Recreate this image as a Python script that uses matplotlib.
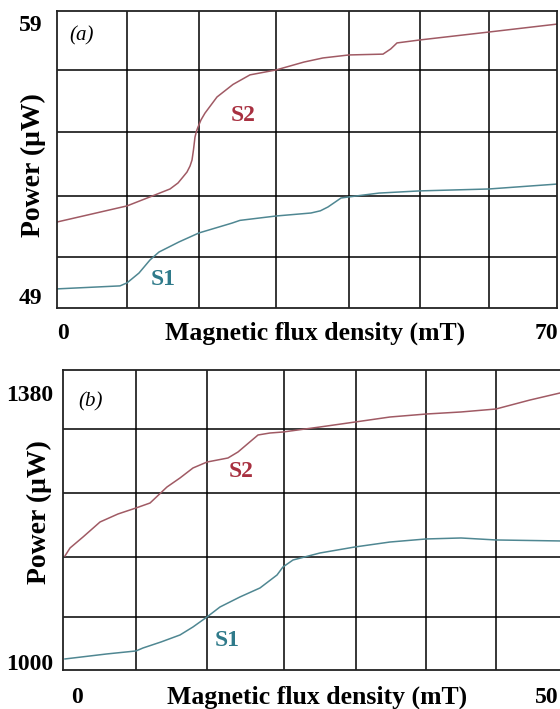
import matplotlib
matplotlib.use('Agg')
import matplotlib.pyplot as plt

plt.rcParams['font.family'] = ['Liberation Serif', 'DejaVu Serif']

# panel (a) data
a_s1_x = [-0.87, 8.26, 9.28, 11.01, 12.61, 13.91, 16.81, 19.71, 24.49, 25.65, 30.87,
          35.94, 37.3, 38.4, 39.5, 40.3, 41.45, 45.8, 51.74, 61.74, 71.59]
a_s1_y = [49.26, 49.37, 49.48, 49.84, 50.32, 50.61, 50.98, 51.31, 51.67, 51.77, 51.93,
          52.04, 52.12, 52.26, 52.45, 52.59, 52.63, 52.77, 52.85, 52.92, 53.10]
a_s2_x = [-0.87, 9.28, 12.61, 15.51, 16.67, 17.39, 17.97, 18.41, 18.70, 18.91, 19.13, 19.35,
          19.57, 20.0, 20.58, 22.32, 24.64, 27.10, 30.87, 34.93, 37.68, 41.45, 46.38, 47.5,
          48.41, 51.74, 61.74, 71.59]
a_s2_y = [51.71, 52.30, 52.63, 52.92, 53.14, 53.36, 53.54, 53.76, 53.98, 54.35, 54.82, 55.04,
          55.19, 55.45, 55.70, 56.29, 56.75, 57.10, 57.28, 57.57, 57.72, 57.83, 57.86, 58.05,
          58.27, 58.38, 58.67, 58.96]

# panel (b) data
b_s1_x = [-1.28, 3.19, 6.28, 7.02, 8.94, 10.96, 12.34, 13.83, 15.21, 17.34, 19.47,
          21.28, 21.91, 22.98, 25.85, 29.57, 33.30, 37.13, 40.85, 44.57, 51.38]
b_s1_y = [1004.3, 1011.4, 1015.6, 1019.8, 1028.3, 1038.2, 1049.5, 1063.6, 1077.7, 1091.9, 1104.6,
          1122.9, 1134.2, 1144.1, 1154.0, 1162.5, 1169.5, 1173.8, 1175.2, 1172.4, 1171.0]
b_s2_x = [-1.28, -0.74, 0.64, 2.45, 4.36, 6.28, 7.77, 9.57, 10.96, 12.34, 13.83, 16.06,
          17.13, 19.26, 20.53, 21.91, 25.85, 29.57, 33.30, 37.13, 40.85, 44.57, 48.19, 51.38]
b_s2_y = [1149.8, 1161.1, 1176.6, 1197.8, 1209.1, 1217.6, 1224.6, 1247.2, 1260.0, 1274.1, 1282.5, 1288.2,
          1296.7, 1320.7, 1323.5, 1324.9, 1332.0, 1339.0, 1346.1, 1350.3, 1353.2, 1357.4, 1370.1, 1380.0]

a_xticks = [0, 70]
a_yticks = [49, 59]
b_xticks = [0, 50]
b_yticks = [1000, 1380]

# grid line positions (not at tick values in the original)
a_xgrid = [9.28, 19.7, 30.9, 41.4, 51.7, 61.7]
a_ygrid = [50.43, 52.66, 55.01, 57.28]
b_xgrid = [6.28, 13.83, 22.02, 29.68, 37.13, 44.57]
b_ygrid = [1063.6, 1148.4, 1238.8, 1329.2]

c_s1 = '#4f8792'
c_s2 = '#a05a64'
c_s1_txt = '#2f7a8a'
c_s2_txt = '#a83040'

fig = plt.figure(figsize=(5.6, 7.09), dpi=100)
W, H = 560.0, 709.0

ax1 = fig.add_axes([57 / W, 1 - 308 / H, 500 / W, 297 / H])
ax2 = fig.add_axes([63 / W, 1 - 670 / H, 499 / W, 300 / H])


def style(ax, xt, yt, xg, yg, xlim, ylim, ypad, xpad):
    ax.set_xlim(*xlim)
    ax.set_ylim(*ylim)
    ax.set_xticks(xt)
    ax.set_yticks(yt)
    ax.set_xticks(xg, minor=True)
    ax.set_yticks(yg, minor=True)
    ax.grid(which='minor', color='black', lw=1.1)
    ax.grid(which='major', visible=False)
    ax.tick_params(which='both', length=0)
    ax.tick_params(axis='y', pad=ypad)
    ax.tick_params(axis='x', pad=xpad)
    for lab in ax.get_xticklabels() + ax.get_yticklabels():
        lab.set_fontweight('bold')
        lab.set_fontsize(17)
    for sp in ax.spines.values():
        sp.set_linewidth(1.3)
        sp.set_color('#222222')
    ax.set_axisbelow(True)


style(ax1, a_xticks, a_yticks, a_xgrid, a_ygrid, (-0.87, 71.6), (48.56, 59.44), 10.5, 11)
style(ax2, b_xticks, b_yticks, b_xgrid, b_ygrid, (-1.49, 51.6), (988.7, 1412.5), 7, 12)

ax1.plot(a_s1_x, a_s1_y, color=c_s1, lw=1.1)
ax1.plot(a_s2_x, a_s2_y, color=c_s2, lw=1.1)
ax2.plot(b_s1_x, b_s1_y, color=c_s1, lw=1.1)
ax2.plot(b_s2_x, b_s2_y, color=c_s2, lw=1.1)

ax1.text(26.1, 55.63, 'S2', color=c_s2_txt, fontsize=17, fontweight='bold', ha='center', va='center')
ax1.text(14.5, 49.59, 'S1', color=c_s1_txt, fontsize=17, fontweight='bold', ha='center', va='center')
ax2.text(17.45, 1269.8, 'S2', color=c_s2_txt, fontsize=17, fontweight='bold', ha='center', va='center')
ax2.text(15.96, 1029.7, 'S1', color=c_s1_txt, fontsize=17, fontweight='bold', ha='center', va='center')

ax1.text(0.05, 0.916, '(a)', transform=ax1.transAxes, fontsize=15, style='italic', ha='center', va='center')
ax2.text(0.056, 0.893, '(b)', transform=ax2.transAxes, fontsize=15, style='italic', ha='center', va='center')

fig.text(315 / W, 1 - 333 / H, 'Magnetic flux density (mT)', fontsize=18.5, fontweight='bold', ha='center', va='center')
fig.text(317 / W, 1 - 697 / H, 'Magnetic flux density (mT)', fontsize=18.5, fontweight='bold', ha='center', va='center')
fig.text(33 / W, 1 - 165 / H, 'Power (μW)', fontsize=20, fontweight='bold', rotation=90, ha='center', va='center')
fig.text(39 / W, 1 - 512 / H, 'Power (μW)', fontsize=20, fontweight='bold', rotation=90, ha='center', va='center')

fig.savefig('out.png', dpi=100)
